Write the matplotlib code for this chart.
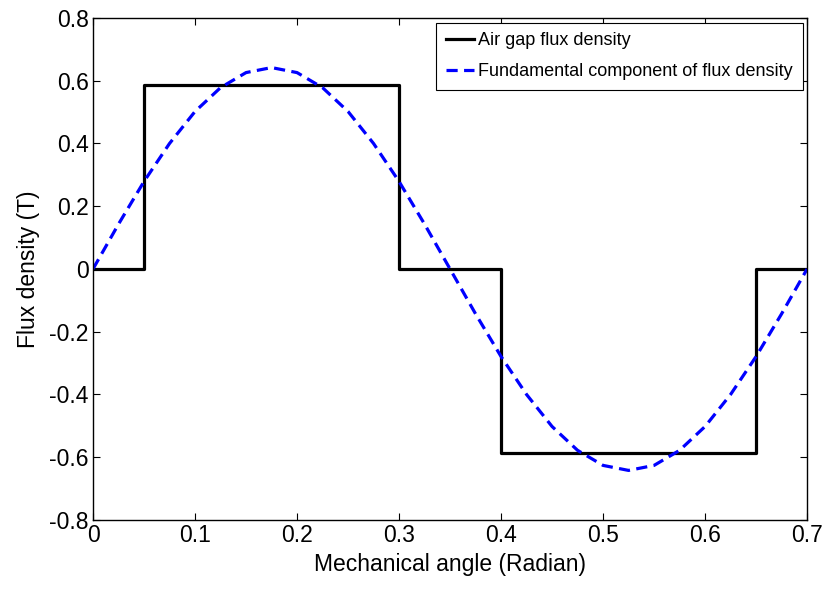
import matplotlib
matplotlib.use("Agg")
import matplotlib.pyplot as plt

plt.rcParams['font.family'] = ['Liberation Sans', 'DejaVu Sans']

# air gap flux density (stepped waveform)
step_x = [0, 0.05, 0.05, 0.30, 0.30, 0.40, 0.40, 0.65, 0.65, 0.70]
step_y = [0, 0, 0.586, 0.586, 0, 0, -0.586, -0.586, 0, 0]

# fundamental component, read every 0.025 rad
fund_x = [0.000, 0.025, 0.050, 0.075, 0.100, 0.125, 0.150, 0.175, 0.200, 0.225,
          0.250, 0.275, 0.300, 0.325, 0.350, 0.375, 0.400, 0.425, 0.450, 0.475,
          0.500, 0.525, 0.550, 0.575, 0.600, 0.625, 0.650, 0.675, 0.700]
fund_y = [0.000, 0.143, 0.279, 0.400, 0.502, 0.578, 0.626, 0.642, 0.626, 0.578,
          0.502, 0.400, 0.279, 0.143, 0.000, -0.143, -0.279, -0.400, -0.502, -0.578,
          -0.626, -0.642, -0.626, -0.578, -0.502, -0.400, -0.279, -0.143, 0.000]

xticks = [0, 0.1, 0.2, 0.3, 0.4, 0.5, 0.6, 0.7]
xtick_labels = ['0', '0.1', '0.2', '0.3', '0.4', '0.5', '0.6', '0.7']
yticks = [-0.8, -0.6, -0.4, -0.2, 0, 0.2, 0.4, 0.6, 0.8]
ytick_labels = ['-0.8', '-0.6', '-0.4', '-0.2', '0', '0.2', '0.4', '0.6', '0.8']

fig = plt.figure(figsize=(8.26, 5.94), dpi=100)
ax = fig.add_axes([0.1126, 0.1246, 0.8645, 0.8451])

ax.plot(step_x, step_y, color='black', linewidth=2.3, label='Air gap flux density')
ax.plot(fund_x, fund_y, color='blue', linewidth=2.3, linestyle=(0, (3.5, 2)),
        label='Fundamental component of flux density')

ax.set_xlim(0, 0.7)
ax.set_ylim(-0.8, 0.8)
ax.set_xticks(xticks)
ax.set_xticklabels(xtick_labels)
ax.set_yticks(yticks)
ax.set_yticklabels(ytick_labels)
ax.tick_params(direction='in', length=5, width=0.8, top=True, right=True,
               labelsize=16.5, pad=3)
for s in ax.spines.values():
    s.set_linewidth(1.0)

ax.set_xlabel('Mechanical angle (Radian)', fontsize=16.5, labelpad=4)
ax.set_ylabel('Flux density (T)', fontsize=16.5, labelpad=7)

leg = ax.legend(loc='upper right', fontsize=13, handlelength=1.6, handletextpad=0.2,
                borderaxespad=0.25, fancybox=False, framealpha=1, edgecolor='black',
                borderpad=0.55, labelspacing=0.75)
leg.get_frame().set_linewidth(0.8)

fig.savefig('out.png', dpi=100)
